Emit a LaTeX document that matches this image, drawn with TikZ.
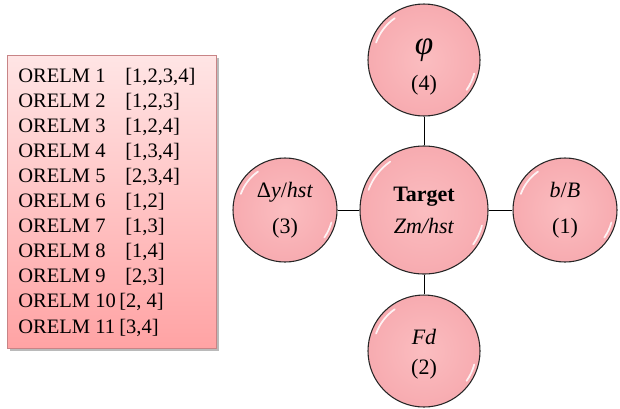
\documentclass[tikz,border=0pt]{standalone}
\usepackage{fontspec}
\setmainfont{Liberation Serif}
\usetikzlibrary{shadows}
\definecolor{boxtop}{HTML}{FFE5E5}
\definecolor{boxbot}{HTML}{FFA3A4}
\definecolor{boxline}{HTML}{C88486}
\definecolor{ballin}{HTML}{FBBDC0}
\definecolor{ballout}{HTML}{F7ABB0}

\begin{document}
\begin{tikzpicture}[x=0.75pt, y=-0.75pt,
	ball/.style={circle, draw=black!85, line width=0.8pt, inner color=ballin, outer color=ballout, align=center, inner sep=0pt, font=\fontsize{16.5}{27}\selectfont},
	gloss/.style={white, line width=1.3pt, opacity=0.85, line cap=round},
	entry/.style={anchor=base west, inner sep=0pt, font=\fontsize{15.4}{18}\selectfont}]
	\useasboundingbox (0,0) rectangle (620,408);
	
	\draw[boxline, top color=boxtop, bottom color=boxbot, drop shadow={shadow xshift=2pt, shadow yshift=-2pt, fill=black!45, opacity=0.6}] (7,55) rectangle (216,348);
	
	\foreach \n/\s/\bx [count=\i] in {1/{[1,2,3,4]}/125, 2/{[1,2,3]}/125, 3/{[1,2,4]}/125, 4/{[1,3,4]}/125, 5/{[2,3,4]}/125, 6/{[1,2]}/125, 7/{[1,3]}/125, 8/{[1,4]}/125, 9/{[2,3]}/125, 10/{[2, 4]}/119, 11/{[3,4]}/119}
	{
	\node[entry] (l\i) at (18, {82+25.1*(\i-1)}) {ORELM \n};
	\node[entry] (s\i) at (\bx, {82+25.1*(\i-1)}) {\s};
	}
	
	\node[ball, minimum size=96pt] (c) at (424,210) {\textbf{Target}\\[-3pt]\textit{Zm/hst}};
	\node[ball, minimum size=84pt] (t) at (424,60) {\rule{0pt}{23pt}{\fontsize{25}{25}\selectfont\textit{φ}}\\(4)};
	\node[ball, minimum size=84pt] (d) at (424,351) {\rule{0pt}{16pt}\textit{Fd}\\[-4pt](2)};
	\node[ball, minimum size=78pt] (l) at (285,210) {Δ\textit{y}/\textit{hst}\\(3)};
	\node[ball, minimum size=78pt] (r) at (565,210) {\textit{b}/\textit{B}\\(1)};
	
	\foreach \b/\r in {c/64, t/56, d/56, l/52, r/52}
	{
	\draw[gloss] (\b.center) ++(200:\r-5) arc[start angle=200, end angle=235, radius=\r-5];
	\draw[gloss] (\b.center) ++(15:\r-4) arc[start angle=15, end angle=35, radius=\r-4];
	}
	
	\draw (c) -- (t);
	\draw (c) -- (d);
	\draw (c) -- (l);
	\draw (c) -- (r);
	
\end{tikzpicture}
\end{document}
